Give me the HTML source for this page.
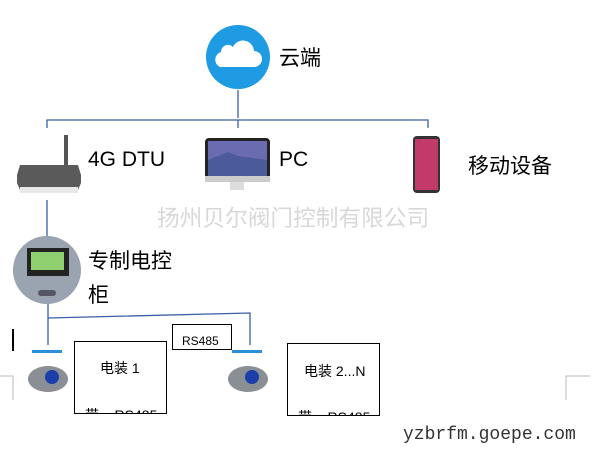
<!DOCTYPE html>
<html><head><meta charset="utf-8"><style>
body{margin:0;width:610px;height:453px;background:#fff;position:relative;overflow:hidden;font-family:"Liberation Sans","Noto Sans CJK SC",sans-serif}
.a{position:absolute}
.t{position:absolute;color:#000;font-size:21px;white-space:nowrap}
.box{position:absolute;border:1.5px solid #000;background:#fff;overflow:hidden}
</style></head><body>
<svg class="a" style="left:0;top:0" width="610" height="453">
<g stroke="#3b5fa8" stroke-width="1.3" fill="none">
<path d="M238 90V118M47 128V120H428V128M238 120V128M47 200V237M48 300V345M48 318L250 313V345"/>
</g>
<circle cx="238" cy="57" r="32" fill="#1e9be3"/>
<path d="M220 67h34a8 8 0 0 0 0-16a11 11 0 0 0-21-4a7 7 0 0 0-12 5a8 8 0 0 0-1 15z" fill="#fff"/>
<rect x="64" y="135" width="4" height="30" fill="#555"/>
<path d="M20 165h58l3 10v8l-3 7h-58l-3-7v-8z" fill="#5a5a5a"/>
<rect x="20" y="187" width="58" height="6" fill="#e8e8e8"/>
<rect x="205" y="138" width="65" height="42" rx="4" fill="#222"/>
<rect x="208" y="141" width="59" height="35" fill="#6a6bb0"/>
<path d="M208 160l20-8 10 4 29 4v16h-59z" fill="#4a5a9a"/>
<rect x="205" y="176" width="65" height="6" fill="#ccc"/>
<rect x="230" y="182" width="14" height="8" fill="#ddd"/>
<rect x="413" y="136" width="27" height="57" rx="4" fill="#333"/>
<rect x="415" y="139" width="23" height="51" fill="#c23a6a"/>
<circle cx="47" cy="270" r="34" fill="#9aa3b0"/>
<rect x="27" y="248" width="42" height="28" fill="#222"/>
<rect x="31" y="252" width="33" height="18" fill="#8fcf70"/>
<rect x="38" y="290" width="18" height="6" rx="3" fill="#556"/>
<g id="act">
<rect x="32" y="350" width="30" height="3" fill="#2a8fd8"/>
<ellipse cx="48" cy="379" rx="20" ry="13" fill="#8a8e95"/>
<circle cx="52" cy="377" r="7" fill="#1a3fa8"/>
</g>
<use href="#act" x="200"/>
<path d="M0 376H13V400" stroke="#bbb" fill="none"/>
<path d="M13 329V351" stroke="#000" stroke-width="2"/>
<path d="M590 376H566V400" stroke="#bbb" fill="none"/>
</svg>
<div class="t" style="left:279px;top:42px">云端</div>
<div class="t" style="left:88px;top:148px">4G DTU</div>
<div class="t" style="left:279px;top:148px">PC</div>
<div class="t" style="left:468px;top:150px">移动设备</div>
<div class="t" style="left:157px;top:200px;color:#d8d8d8;font-size:22.7px">扬州贝尔阀门控制有限公司</div>
<div class="t" style="left:88px;top:245px;line-height:34px">专制电控<br>柜</div>
<div class="box" style="left:172px;top:324px;width:58px;height:24px;font-size:12px"><span style="position:absolute;left:9px;top:9px">RS485</span></div>
<div class="box" style="left:74px;top:341px;width:91px;height:71px;font-size:14px"><span style="position:absolute;left:25px;top:16px">电装 1</span><span style="position:absolute;left:10px;top:63px">带&nbsp;&nbsp;&nbsp;&nbsp;RS485</span></div>
<div class="box" style="left:287px;top:343px;width:91px;height:71px;font-size:14px"><span style="position:absolute;left:16px;top:17px">电装 2...N</span><span style="position:absolute;left:10px;top:63px">带&nbsp;&nbsp;&nbsp;&nbsp;RS485</span></div>
<div class="t" style="left:403px;top:425px;font-family:'Liberation Mono',monospace;font-size:18px;color:#333">yzbrfm.goepe.com</div>
</body></html>
